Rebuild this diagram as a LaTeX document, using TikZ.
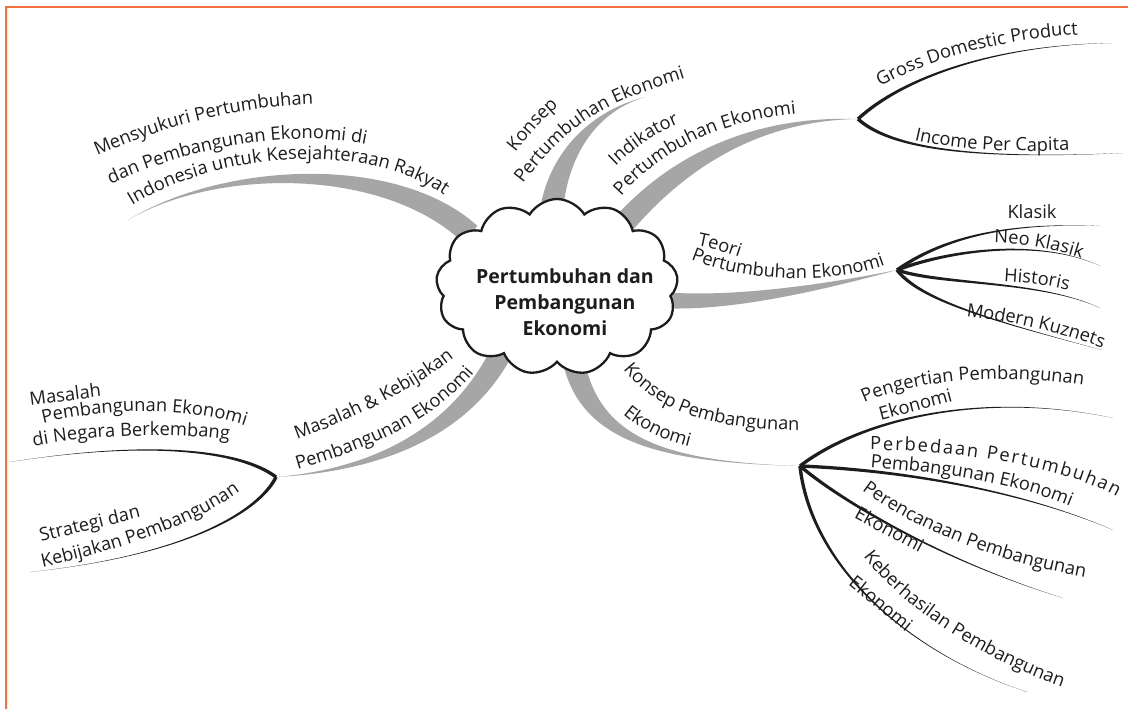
\documentclass[tikz,border=0pt]{standalone}
\usepackage{fontspec}
\setmainfont{Open Sans}
\usetikzlibrary{shapes.symbols,decorations.text,calc}
\definecolor{framecol}{RGB}{240,112,64}
\definecolor{bandgray}{RGB}{166,166,166}
\definecolor{ink}{RGB}{30,28,28}
\newcommand\lbl{\fontsize{18.3}{20}\selectfont}
% tapered stroke: style, thick end, control 1, control 2, thin tip, half width
\newcommand\taper[6]{%
  \path #2 coordinate (tA) #3 coordinate (tB) #4 coordinate (tC) #5 coordinate (tT);
  \path ($(tA)!#6!90:(tB)$) coordinate (tP) ($(tA)!#6!-90:(tB)$) coordinate (tQ);
  \fill[#1] (tP) .. controls ($(tB)+0.9*(tP)-0.9*(tA)$) and ($(tC)+0.35*(tP)-0.35*(tA)$) .. (tT)
     .. controls ($(tC)+0.35*(tQ)-0.35*(tA)$) and ($(tB)+0.9*(tQ)-0.9*(tA)$) .. (tQ) -- cycle;
}
% text set along a curve
\newcommand\arctext[2]{\path[decorate,decoration={text along path,text align=center,text color=ink,text={|\lbl|#2}}] #1;}
\tikzset{
  band/.style={fill=bandgray},
  stroke/.style={fill=ink},
  plain/.style={font=\lbl,text=ink,inner sep=0pt}
}
\begin{document}
\begin{tikzpicture}[x=1pt,y=-1pt]
\useasboundingbox (0,0) rectangle (1128,709);
\fill[white] (0,0) rectangle (1128,709);
\draw[framecol,line width=1.6pt] (6,709) -- (6,7) -- (1128,7);

% where the main branches leave the cloud
\coordinate (s1) at (470,234);
\coordinate (s2) at (550,228);
\coordinate (s3) at (620,228);
\coordinate (s4) at (660,300);
\coordinate (s5) at (505,345);
\coordinate (s6) at (572,352);
% hubs of the sub branches
\coordinate (h1) at (858,119);
\coordinate (h2) at (897,270);
\coordinate (h3) at (276,477);
\coordinate (h4) at (800,466);
% free ends
\coordinate (e1) at (128,220);
\coordinate (e2) at (645,97);
\coordinate (gdp) at (1112,43);
\coordinate (inc) at (1123,153);
\coordinate (kl) at (1100,226);
\coordinate (nk) at (1100,266);
\coordinate (hi) at (1100,308);
\coordinate (mk) at (1102,350);
\coordinate (mp) at (10,462);
\coordinate (sk) at (30,572);
\coordinate (pe) at (1113,418);
\coordinate (pb) at (1113,530);
\coordinate (pr) at (1063,598);
\coordinate (kb) at (1027,692);

% grey main branches
\taper{band}{(s1)}{(390,160)}{(220,165)}{(e1)}{11pt}
\taper{band}{(s2)}{(552,160)}{(590,112)}{(e2)}{12pt}
\taper{band}{(s3)}{(680,158)}{(760,118)}{(h1)}{11pt}
\taper{band}{(s4)}{(730,305)}{(820,288)}{(h2)}{8pt}
\taper{band}{(s5)}{(465,430)}{(380,470)}{(h3)}{11pt}
\taper{band}{(s6)}{(585,440)}{(660,462)}{(h4)}{11pt}

% black sub branches
\taper{stroke}{(h1)}{(900,80)}{(990,45)}{(gdp)}{1.7pt}
\taper{stroke}{(h1)}{(890,148)}{(970,160)}{(inc)}{1.7pt}
\taper{stroke}{(h2)}{(940,240)}{(1000,222)}{(kl)}{1.7pt}
\taper{stroke}{(h2)}{(950,250)}{(1040,238)}{(nk)}{1.7pt}
\taper{stroke}{(h2)}{(940,285)}{(1040,280)}{(hi)}{1.7pt}
\taper{stroke}{(h2)}{(920,300)}{(990,320)}{(mk)}{1.7pt}
\taper{stroke}{(h3)}{(240,450)}{(150,440)}{(mp)}{1.7pt}
\taper{stroke}{(h3)}{(260,510)}{(190,555)}{(sk)}{1.7pt}
\taper{stroke}{(h4)}{(860,420)}{(980,390)}{(pe)}{1.7pt}
\taper{stroke}{(h4)}{(900,470)}{(1020,490)}{(pb)}{1.7pt}
\taper{stroke}{(h4)}{(840,500)}{(940,560)}{(pr)}{1.7pt}
\taper{stroke}{(h4)}{(810,560)}{(900,650)}{(kb)}{1.7pt}

% central cloud
\node[cloud, cloud puffs=13, cloud puff arc=118, draw=ink, fill=white, line width=2.3pt,
      minimum width=242pt, minimum height=176pt] (c) at (557,287) {};
\node[font=\fontsize{19.5}{26}\selectfont\bfseries, align=center, text=ink] (ct) at (565,302)
  {Pertumbuhan dan\\Pembangunan\\Ekonomi};

% labels of the upper left branch
\arctext{(93,158) .. controls (165,125) and (240,106) .. (318,104)}{Mensyukuri Pertumbuhan}
\arctext{(103,188) .. controls (180,150) and (290,126) .. (374,146)}{dan Pembangunan Ekonomi di}
\arctext{(128,208) .. controls (220,150) and (370,140) .. (448,198)}{Indonesia untuk Kesejahteraan Rakyat}

% labels of the upper branches
\arctext{(506,164) .. controls (525,140) and (540,120) .. (570,96)}{Konsep}
\arctext{(520,188) .. controls (575,113) and (616,100) .. (690,77)}{Pertumbuhan Ekonomi}
\arctext{(606,176) .. controls (630,150) and (655,132) .. (692,119)}{Indikator}
\arctext{(616,202) .. controls (660,150) and (720,120) .. (804,113)}{Pertumbuhan Ekonomi}
\arctext{(868,94) .. controls (920,62) and (995,38) .. (1092,34)}{Gross Domestic Product}
\arctext{(906,138) .. controls (950,150) and (1010,153) .. (1078,150)}{Income Per Capita}

% labels of the theory branch
\arctext{(686,244) .. controls (705,246) and (725,252) .. (750,261)}{Teori}
\arctext{(688,258) .. controls (745,283) and (835,285) .. (888,264)}{Pertumbuhan Ekonomi}
\node[plain, anchor=base] (tk) at (1032,218) {Klasik};
\arctext{(983,243) .. controls (1020,242) and (1060,250) .. (1092,262)}{Neo Klasik}
\arctext{(996,281) .. controls (1025,282) and (1050,285) .. (1076,292)}{Historis}
\arctext{(956,315) .. controls (1000,320) and (1060,330) .. (1112,352)}{Modern Kuznets}

% labels of the lower left branch
\arctext{(280,446) .. controls (340,425) and (420,390) .. (468,346)}{Masalah {\&} Kebijakan}
\arctext{(282,474) .. controls (370,450) and (440,420) .. (484,360)}{Pembangunan Ekonomi}
\arctext{(26,406) -- (106,396)}{Masalah}
\arctext{(36,425) .. controls (100,408) and (190,405) .. (252,428)}{Pembangunan Ekonomi}
\arctext{(26,448) .. controls (80,435) and (180,432) .. (237,441)}{di Negara Berkembang}
\arctext{(40,542) -- (142,517)}{Strategi dan}
\arctext{(34,569) .. controls (110,552) and (190,530) .. (247,486)}{Kebijakan Pembangunan}

% labels of the lower right branch
\arctext{(618,362) .. controls (648,405) and (700,432) .. (808,430)}{Konsep Pembangunan}
\arctext{(616,408) .. controls (640,430) and (660,440) .. (698,449)}{Ekonomi}
\arctext{(860,405) .. controls (900,385) and (980,370) .. (1088,386)}{Pengertian Pembangunan}
\arctext{(874,422) -- (960,399)}{Ekonomi}
\path[decorate,decoration={text along path,text align=fit to path,text color=ink,
  text={|\lbl|Perbedaan Pertumbuhan}}] (870,450) .. controls (930,450) and (1050,460) .. (1117,497);
\arctext{(866,467) .. controls (930,472) and (1010,480) .. (1074,508)}{Pembangunan Ekonomi}
\arctext{(858,487) .. controls (900,520) and (980,560) .. (1090,578)}{Perencanaan Pembangunan}
\arctext{(848,515) -- (925,556)}{Ekonomi}
\arctext{(860,551) .. controls (892,600) and (980,660) .. (1068,689)}{Keberhasilan Pembangunan}
\arctext{(843,581) -- (911,636)}{Ekonomi}
\end{tikzpicture}
\end{document}
